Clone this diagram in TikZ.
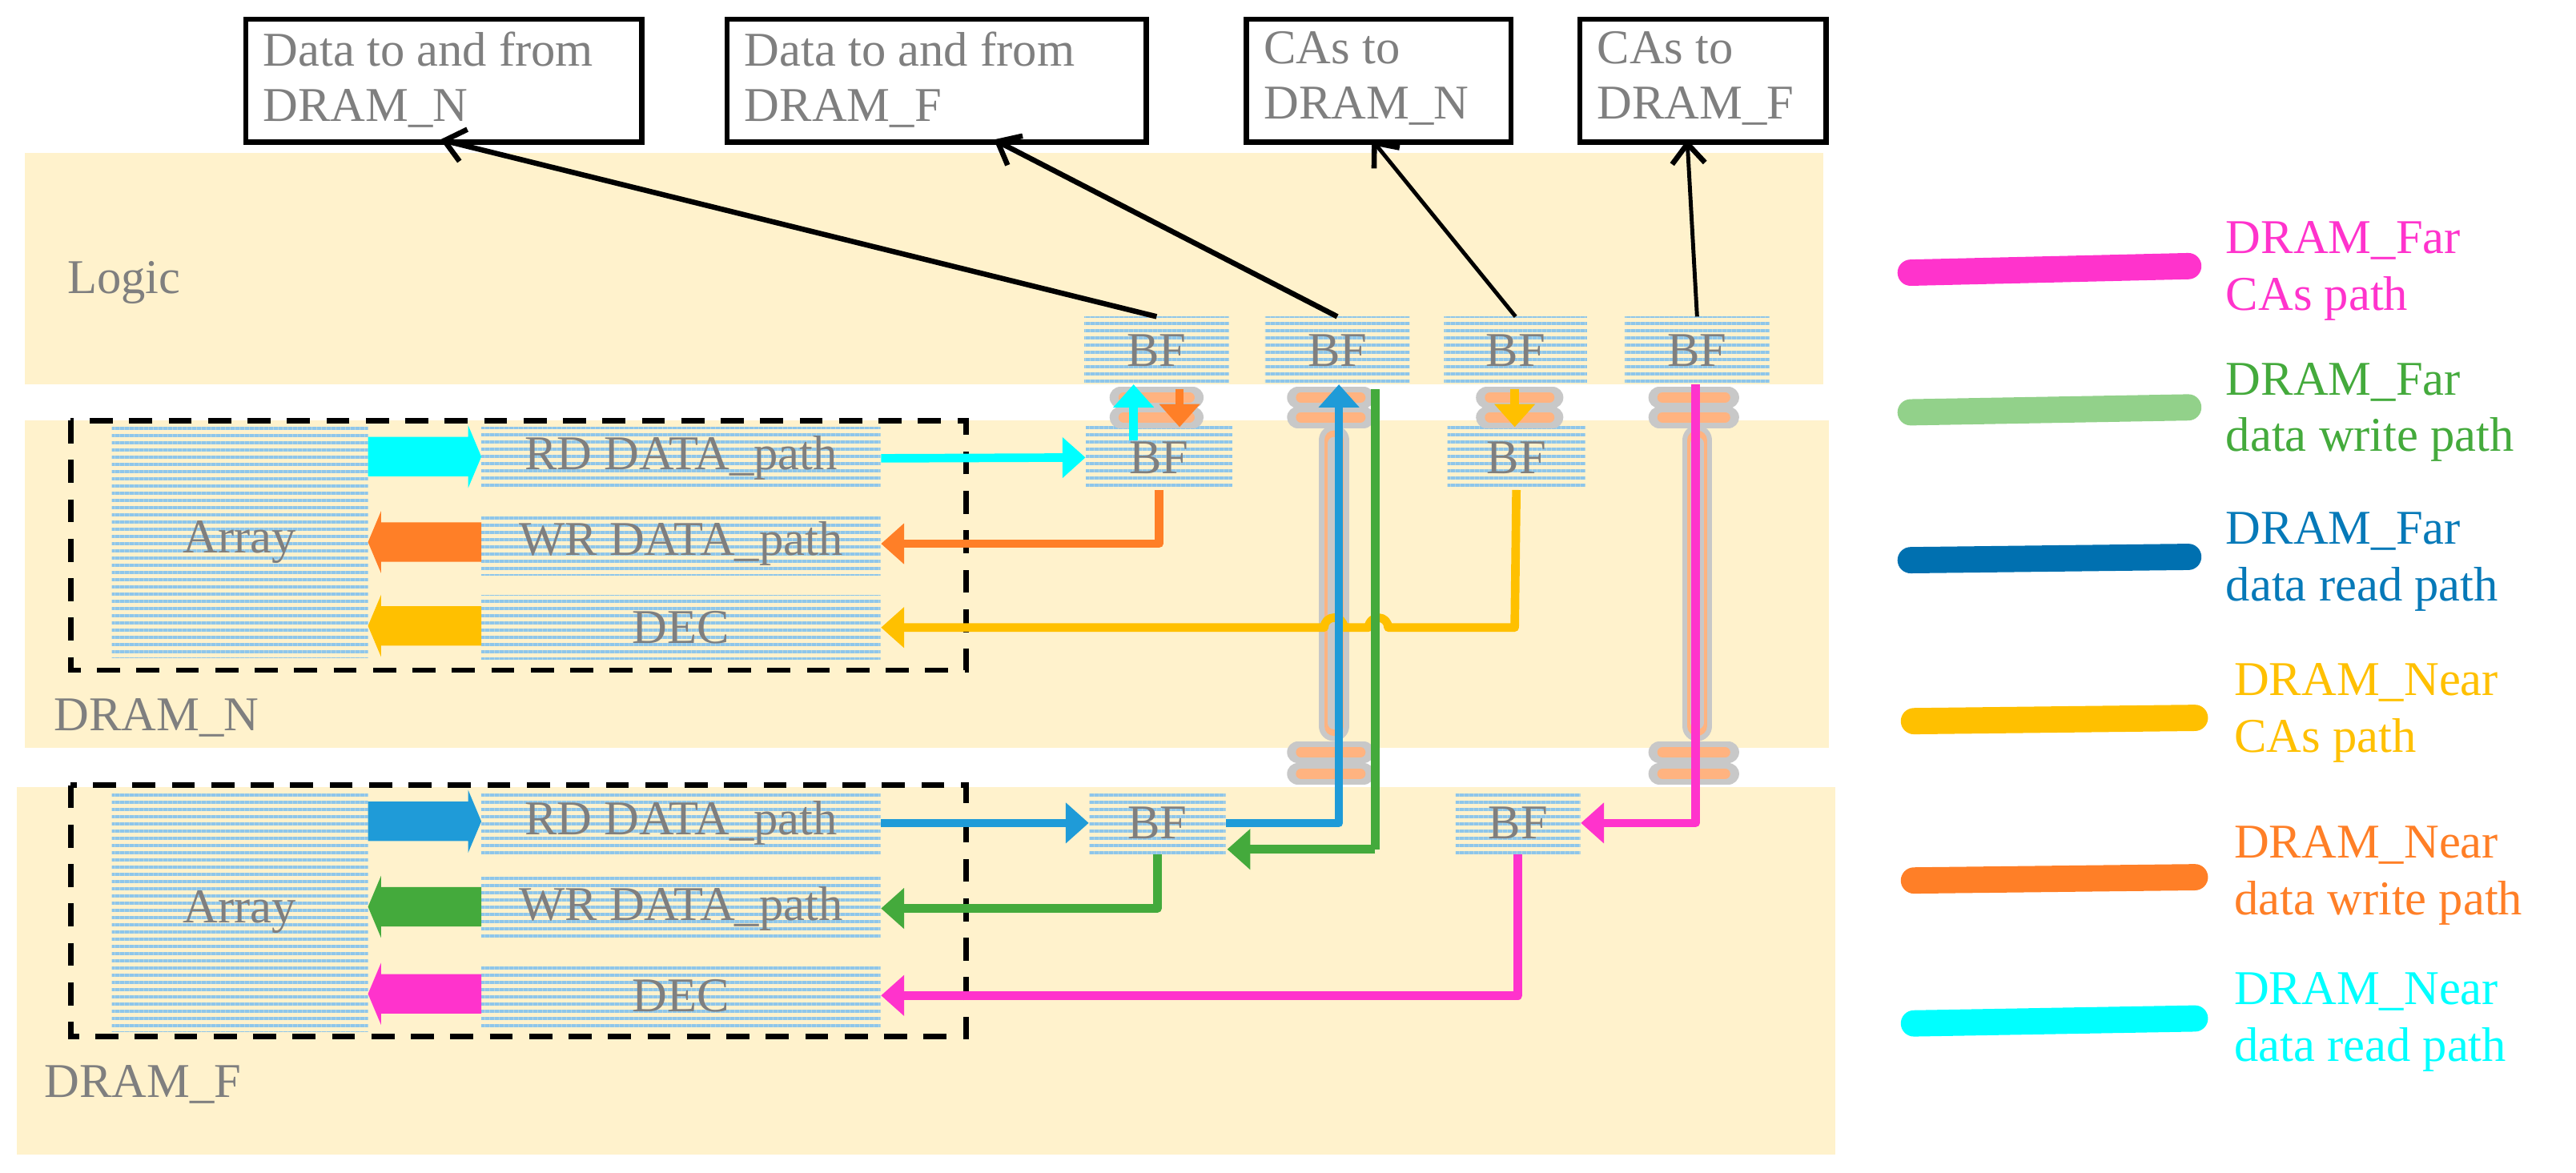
\documentclass[tikz,border=0pt]{standalone}
\usepackage{fontspec}
\setmainfont{Liberation Serif}
\usetikzlibrary{arrows.meta,patterns.meta}
\definecolor{band}{HTML}{FFF2CC}
\definecolor{stripe}{HTML}{8EC6EA}
\definecolor{txt}{HTML}{7F7F7F}
\definecolor{cCyan}{HTML}{00FFFF}
\definecolor{cOrange}{HTML}{FF7F27}
\definecolor{cYellow}{HTML}{FFC000}
\definecolor{cBlue}{HTML}{1F9BD8}
\definecolor{cGreen}{HTML}{44AA3C}
\definecolor{cMag}{HTML}{FF33CC}
\definecolor{lGreen}{HTML}{92D18A}
\definecolor{lBlue}{HTML}{0070B0}
\definecolor{tsvGray}{HTML}{C8C8C8}
\definecolor{tsvPeach}{HTML}{FFB380}
\tikzdeclarepattern{name=hstripes,type=uncolored,bottom left={(0pt,0pt)},top right={(2pt,3pt)},tile size={(2pt,3pt)},code={\fill (0pt,0pt) rectangle (2pt,1.4pt);}}
\begin{document}
\begin{tikzpicture}[x=0.025cm,y=-0.025cm,
  every node/.style={font=\fontsize{21}{24}\selectfont, text=txt},
  striped/.style={pattern={hstripes}, pattern color=stripe, inner sep=0pt},
  cpath/.style={line width=1.3mm, line join=round, -{Triangle[length=3.5mm,width=6mm]}},
  leg/.style={line width=4mm, line cap=round},
  legt/.style={anchor=west, align=left, font=\fontsize{21}{24.5}\selectfont},
  blkarr/.style={line width=0.8mm, -{Straight Barb[length=3mm,width=5mm,line width=0.8mm]}},
  pairg/.style={line width=3.3mm, line cap=round, draw=tsvGray},
  pairp/.style={line width=1.6mm, line cap=round, draw=tsvPeach},
  dbox/.style={draw=black, line width=0.8mm, dash pattern=on 3.5mm off 2.5mm},
  tbox/.style={draw=black,line width=0.8mm,minimum height=1.875cm,anchor=north west},
  ttext/.style={anchor=north west,align=left,inner sep=0pt,font=\fontsize{21}{24}\selectfont}]
\useasboundingbox (0,0) rectangle (1568,714);
% bands
\fill[band] (15,93) rectangle (1110,234);
\fill[band] (15,256) rectangle (1113,455);
\fill[band] (10,479) rectangle (1117,703);
\node[anchor=west] (lLogic) at (36,172) {Logic};
\node[anchor=west] (lN) at (28,437) {DRAM\_N};
\node[anchor=west] (lF) at (22,660) {DRAM\_F};
% top boxes
\node[tbox,minimum width=6.025cm] (t1) at (148,10) {};
\node[ttext] at (160,19) {Data to and from\\DRAM\_N};
\node[tbox,minimum width=6.375cm] (t2) at (441,10) {};
\node[ttext] at (453,19) {Data to and from\\DRAM\_F};
\node[tbox,minimum width=4.025cm] (t3) at (757,10) {};
\node[ttext] at (769,19) {CAs to\\DRAM\_N};
\node[tbox,minimum width=3.75cm] (t4) at (960,10) {};
\node[ttext] at (972,19) {CAs to\\DRAM\_F};
% dashed boxes
\draw[dbox] (43,256) rectangle (588,408);
\draw[dbox] (43,478) rectangle (588,631);
% striped blocks
\newcommand\blk[5]{\node[striped,minimum width=#3*0.025cm,minimum height=#4*0.025cm] (#1) at (#2) {#5};}
\blk{arrN}{146,330}{156}{141}{Array}
\blk{arrF}{146,555}{156}{146}{Array}
\blk{rdN}{414.5,279}{243}{38}{RD DATA\_path}
\blk{wrN}{414.5,331}{243}{38}{WR DATA\_path}
\blk{decN}{414.5,382}{243}{39}{DEC}
\blk{rdF}{414.5,501}{243}{38}{RD DATA\_path}
\blk{wrF}{414.5,553}{243}{38}{WR DATA\_path}
\blk{decF}{414.5,606}{243}{40}{DEC}
\blk{bfL1}{704,213.5}{88}{41}{BF}
\blk{bfL2}{814,213.5}{88}{41}{BF}
\blk{bfL3}{922.5,213.5}{87}{41}{BF}
\blk{bfL4}{1033,213.5}{88}{41}{BF}
\blk{bfN1}{705.5,278.5}{89}{39}{BF}
\blk{bfN2}{923,278.5}{84}{39}{BF}
\blk{bfF1}{704.5,501}{83}{38}{BF}
\blk{bfF2}{924,501}{76}{38}{BF}
% TSVs
\foreach \x/\w in {704/22,810/20,925/20,1031/21}{
  \foreach \y in {242,254}{\draw[pairg] (\x-\w,\y) -- (\x+\w,\y); \draw[pairp] (\x-\w+2,\y) -- (\x+\w-2,\y);}}
\foreach \x/\w in {810/20,1031/21}{
  \foreach \y in {458,471}{\draw[pairg] (\x-\w,\y) -- (\x+\w,\y); \draw[pairp] (\x-\w+2,\y) -- (\x+\w-2,\y);}
  \draw[line width=4.6mm,line cap=round,draw=tsvGray] (\x+2,268) -- (\x+2,442);
  \draw[line width=3mm,line cap=round,draw=tsvPeach] (\x+2,268) -- (\x+2,442);
  \draw[line width=2mm,line cap=round,draw=tsvGray] (\x+2,270) -- (\x+2,440);}
% fat arrows
\newcommand\fatR[3]{\fill[#3] (#1,#2-12) -- (#1+61,#2-12) -- (#1+61,#2-19) -- (#1+69,#2) -- (#1+61,#2+19) -- (#1+61,#2+12) -- (#1,#2+12) -- cycle;}
\newcommand\fatL[3]{\fill[#3] (#1,#2-12) -- (#1-61,#2-12) -- (#1-61,#2-19) -- (#1-69,#2) -- (#1-61,#2+19) -- (#1-61,#2+12) -- (#1,#2+12) -- cycle;}
\fatR{224}{278}{cCyan}
\fatL{293}{330}{cOrange}
\fatL{293}{381}{cYellow}
\fatR{224}{500}{cBlue}
\fatL{293}{552}{cGreen}
\fatL{293}{605}{cMag}
% paths
\draw[cpath,cCyan] (rdN.east) -- (bfN1.west);
\draw[cpath,cCyan] (690,268) -- (690,234);
\draw[cpath,cOrange] (718,237) -- (718,260);
\draw[cpath,cOrange] (bfN1.south) |- (wrN.east);
\draw[cpath,cYellow] (922,237) -- (922,260);
\draw[cpath,cYellow] (bfN2.south) -- (922,382) -- (845,382) arc(0:-180:6) -- (818,382) arc(0:-180:6) -- (decN.east);
\draw[cpath,cBlue] (rdF.east) -- (bfF1.west);
\draw[cpath,cBlue] (bfF1.east) -- (815,501) -- (815,234);
\draw[cpath,cGreen,-] (837,237) -- (837,517);
\draw[cpath,cGreen] (837,517) -- (747,517);
\draw[cpath,cGreen] (bfF1.south) |- (wrF.east);
\draw[cpath,cMag] (1032,234) -- (1032,501) -- (bfF2.east);
\draw[cpath,cMag] (bfF2.south) |- (decF.east);
% black arrows
\draw[blkarr] (bfL1.north) -- (268,85);
\draw[blkarr] (bfL2.north) -- (605,85);
\draw[blkarr,line width=0.6mm] (bfL3.north) -- (835,85);
\draw[blkarr,line width=0.6mm] (bfL4.north) -- (1027,85);
% legend
\draw[leg,cMag] (1163,166) -- (1332,162);
\node[legt,text=cMag] at (1350,165) {DRAM\_Far\\CAs path};
\draw[leg,lGreen] (1163,251) -- (1332,248);
\node[legt,text=cGreen] at (1350,251) {DRAM\_Far\\data write path};
\draw[leg,lBlue] (1163,341) -- (1332,339);
\node[legt,text=lBlue!80!cBlue] at (1350,342) {DRAM\_Far\\data read path};
\draw[leg,cYellow] (1165,439) -- (1336,437);
\node[legt,text=cYellow] at (1355,434) {DRAM\_Near\\CAs path};
\draw[leg,cOrange] (1165,536) -- (1336,534);
\node[legt,text=cOrange] at (1355,533) {DRAM\_Near\\data write path};
\draw[leg,cCyan] (1165,623) -- (1336,620);
\node[legt,text=cCyan] at (1355,622) {DRAM\_Near\\data read path};
\end{tikzpicture}
\end{document}
